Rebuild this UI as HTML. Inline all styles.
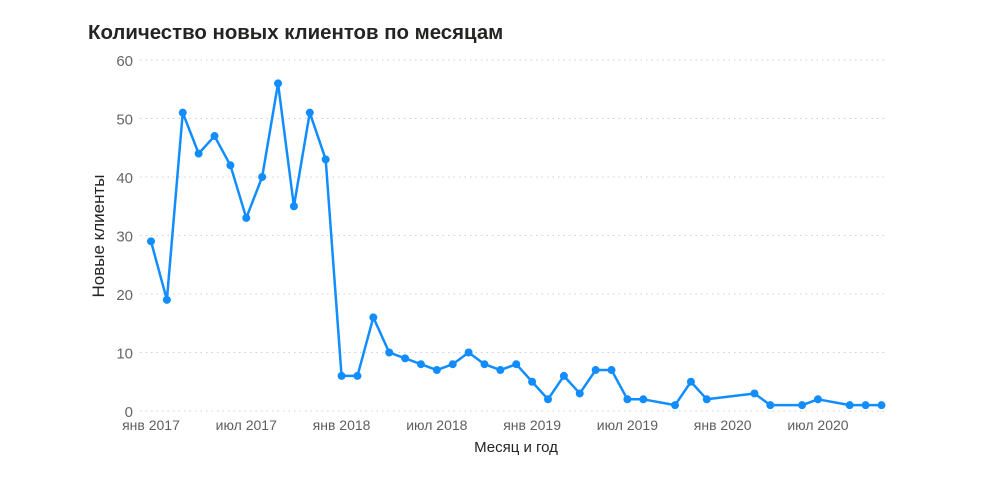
<!DOCTYPE html>
<html><head><meta charset="utf-8"><style>
body{margin:0;background:#fff;}
svg text{font-family:"Liberation Sans","Noto Sans CJK SC",sans-serif;}
</style></head><body>
<svg id="chart" width="990" height="484" xmlns="http://www.w3.org/2000/svg">
<text x="88" y="39" font-size="20.4" font-weight="bold" fill="#252423">Количество новых клиентов по месяцам</text>
<g id="grid"></g><g id="yticks"></g><g id="xticks"></g>
<text transform="translate(104,236) rotate(-90)" text-anchor="middle" font-size="17" fill="#252423">Новые клиенты</text>
<text x="516" y="452" text-anchor="middle" font-size="15" fill="#252423">Месяц и год</text>
<g id="series"></g>
</svg>
<script>
const months = ["2017-01","2017-02","2017-03","2017-04","2017-05","2017-06","2017-07","2017-08","2017-09","2017-10","2017-11","2017-12","2018-01","2018-02","2018-03","2018-04","2018-05","2018-06","2018-07","2018-08","2018-09","2018-10","2018-11","2018-12","2019-01","2019-02","2019-03","2019-04","2019-05","2019-06","2019-07","2019-08","2019-10","2019-11","2019-12","2020-03","2020-04","2020-06","2020-07","2020-09","2020-10","2020-11"];
const clients = [29,19,51,44,47,42,33,40,56,35,51,43,6,6,16,10,9,8,7,8,10,8,7,8,5,2,6,3,7,7,2,2,1,5,2,3,1,1,2,1,1,1];
const yTicks = [0,10,20,30,40,50,60];
const xTickMonths = ["2017-01","2017-07","2018-01","2018-07","2019-01","2019-07","2020-01","2020-07"];
const xTickLabels = ["янв 2017","июл 2017","янв 2018","июл 2018","янв 2019","июл 2019","янв 2020","июл 2020"];
const NS="http://www.w3.org/2000/svg";
function mi(s){const [y,m]=s.split("-").map(Number);return (y-2017)*12+(m-1);}
function X(s){return 151+15.88*mi(s);}
function Y(v){return 411-v*(351/60);}
function mk(tag,attrs,parent){const e=document.createElementNS(NS,tag);for(const k in attrs)e.setAttribute(k,attrs[k]);document.getElementById(parent).appendChild(e);return e;}
yTicks.forEach(t=>{
  const l=mk("line",{x1:140,x2:886,y1:Y(t),y2:Y(t),stroke:"#cfcfcf","stroke-dasharray":"1.5 4"},"grid");
  
  
  const tx=mk("text",{x:133,y:Y(t)+6,"text-anchor":"end","font-size":"15",fill:"#666666"},"yticks");
  tx.textContent=t;
  
  
});
xTickMonths.forEach((m,i)=>{
  const tx=mk("text",{x:X(m),y:430,"text-anchor":"middle","font-size":"14",fill:"#605e5c"},"xticks");
  tx.textContent=xTickLabels[i];
  
  
});
const pts=months.map((m,i)=>X(m)+","+Y(clients[i])).join(" ");
const pl=mk("polyline",{points:pts,fill:"none",stroke:"#118dff","stroke-width":"2.5","stroke-linejoin":"round"},"series");


months.forEach((m,i)=>{
  const c=mk("circle",{cx:X(m),cy:Y(clients[i]),r:4,fill:"#118dff"},"series");
  
  
});
</script>
</body></html>
